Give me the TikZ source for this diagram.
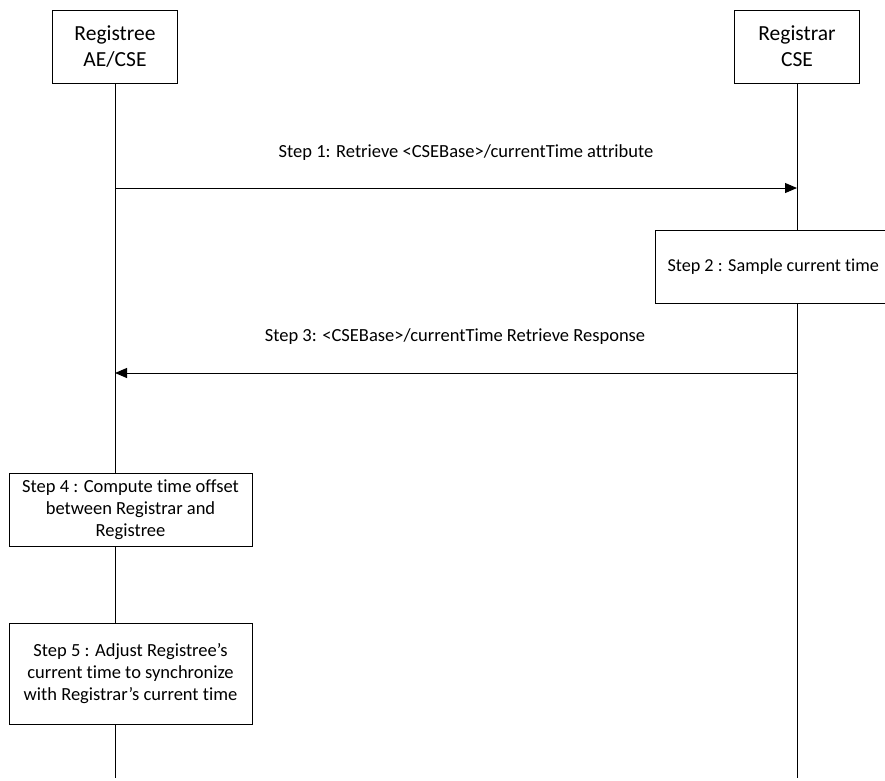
\documentclass[tikz,border=0pt]{standalone}
\usepackage{fontspec}
\setmainfont[Ligatures=NoCommon]{Carlito}
\usetikzlibrary{arrows.meta}
\begin{document}
\begin{tikzpicture}[x=1pt,y=-1pt, line width=1pt,
  entity/.style={draw, fill=white, minimum width=125pt, minimum height=73pt, align=center, font=\fontsize{21.5}{26}\selectfont, inner sep=0pt},
  stepbox/.style={draw, fill=white, minimum width=243pt, align=center, font=\fontsize{18.5}{22}\selectfont, inner sep=0pt},
  msg/.style={-{Triangle[length=12pt,width=10pt]}},
  lbl/.style={font=\fontsize{18.5}{22}\selectfont, inner sep=0pt}]
\useasboundingbox (0,0) rectangle (885,780);
\begin{scope}
\clip (0,0) rectangle (885,780);
% entities
\node[entity] (ree) at (115,46.5) {Registree\\AE/CSE};
\node[entity] (rar) at (797,46.5) {Registrar\\CSE};
% lifeline coordinates
\coordinate (reeEnd) at (115,778);
\coordinate (rarEnd) at (797,778);
\coordinate (m1s) at (115,188);
\coordinate (m1e) at (797,188);
\coordinate (m3s) at (797,373);
\coordinate (m3e) at (115,373);
\draw (ree.south) -- (reeEnd);
\draw (rar.south) -- (rarEnd);
% step 1
\draw[msg] (m1s) -- (m1e);
\node[lbl] (l1) at (466,153) {Step 1: Retrieve <CSEBase>/currentTime attribute};
% step 2
\node[draw, fill=white, minimum width=284pt, minimum height=73pt, anchor=west] (s2) at (655,266.5) {};
\node[lbl, anchor=west, font=\fontsize{18.2}{22}\selectfont] (l2) at (667,266.5) {Step 2 : Sample current time};
% step 3
\draw[msg] (m3s) -- (m3e);
\node[lbl] (l3) at (455,337) {Step 3: <CSEBase>/currentTime Retrieve Response};
% step 4
\node[stepbox, minimum height=73pt] (s4) at (130.5,509.5) {Step 4 : Compute time offset\\between Registrar and\\Registree};
% step 5
\node[stepbox, minimum height=101pt] (s5) at (130.5,673.5) {Step 5 : Adjust Registree’s\\current time to synchronize\\with Registrar’s current time};
\end{scope}
\end{tikzpicture}
\end{document}
